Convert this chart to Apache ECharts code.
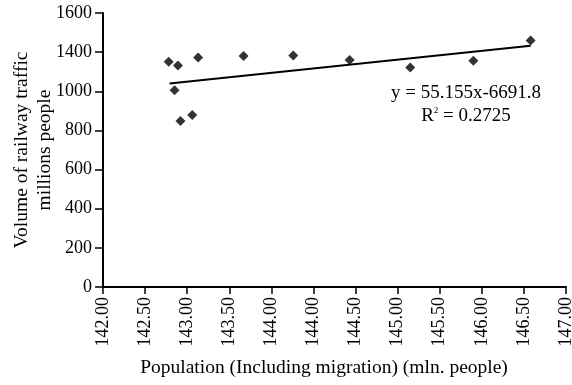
<!DOCTYPE html>
<html>
<head>
<meta charset="utf-8">
<script src="https://cdn.jsdelivr.net/npm/echarts@6/dist/echarts.min.js"></script>
<style>
  html, body { margin: 0; padding: 0; background: #fff; }
  #chart { width: 572px; height: 385px; }
</style>
</head>
<body>
<div id="chart"></div>
<script>
// Population (mln. people) and railway passenger volume, in axis units
const population = [142.78, 142.89, 142.85, 142.92, 143.06, 143.13, 143.67, 144.26, 144.93, 145.65, 146.40, 147.08];
const traffic    = [1151, 1132, 1005, 848, 879, 1172, 1180, 1183, 1160, 1122, 1156, 1260];

// Linear trend line end points
const trendX = [142.79, 147.08];
const trendY = [1040, 1233];

// Tick labels as printed on the axes
const xTickLabels = ['142.00', '142.50', '143.00', '143.50', '144.00', '144.00', '144.50', '145.00', '145.50', '146.00', '146.50', '147.00'];
const yTickLabels = ['0', '200', '400', '600', '800', '1000', '1400', '1600'];

const xMin = 142, xStep = 0.5, xMax = xMin + xStep * (xTickLabels.length - 1);
const yMin = 0, yStep = 200, yMax = yMin + yStep * (yTickLabels.length - 1);

const font = 'Liberation Serif';
const chart = echarts.init(document.getElementById('chart'), null, { renderer: 'canvas' });

chart.setOption({
  animation: false,
  backgroundColor: '#fff',
  textStyle: { fontFamily: font, color: '#000' },
  grid: { left: 103, right: 6, top: 13, bottom: 98, containLabel: false, outerBoundsMode: 'none' },
  xAxis: {
    type: 'value',
    min: xMin, max: xMax, interval: xStep,
    name: 'Population (Including migration) (mln. people)',
    nameLocation: 'middle',
    nameGap: 71,
    nameMoveOverlap: false,
    nameTextStyle: { fontFamily: font, fontSize: 19.5, color: '#000', padding: [0, 21, 0, 0] },
    axisLine: { lineStyle: { color: '#000', width: 2 } },
    axisTick: { length: 7, lineStyle: { color: '#000', width: 1.5 } },
    splitLine: { show: false },
    axisLabel: {
      rotate: 90, margin: 10, fontFamily: font, fontSize: 18, color: '#000',
      formatter: v => xTickLabels[Math.round((v - xMin) / xStep)] ?? ''
    }
  },
  yAxis: {
    type: 'value',
    min: yMin, max: yMax, interval: yStep,
    name: 'Volume of railway traffic\nmillions people',
    nameLocation: 'middle',
    nameGap: 47,
    nameMoveOverlap: false,
    nameTextStyle: { fontFamily: font, fontSize: 19.5, color: '#000', lineHeight: 23 },
    axisLine: { show: true, lineStyle: { color: '#000', width: 2 } },
    axisTick: { show: true, length: 8, lineStyle: { color: '#000', width: 1.5 } },
    splitLine: { show: false },
    axisLabel: {
      margin: 11, fontFamily: font, fontSize: 18, color: '#000',
      formatter: v => yTickLabels[Math.round((v - yMin) / yStep)] ?? ''
    }
  },
  series: [
    {
      type: 'scatter',
      symbol: 'diamond',
      symbolSize: 10,
      itemStyle: { color: '#000' },
      data: population.map((x, i) => [x, traffic[i]])
    },
    {
      type: 'line',
      symbol: 'none',
      lineStyle: { color: '#000', width: 2 },
      data: trendX.map((x, i) => [x, trendY[i]]),
      z: 1
    }
  ],
  graphic: [
    {
      type: 'text',
      x: 466, y: 93,
      style: {
        text: 'y = 55.155x-6691.8',
        font: '19px "Liberation Serif"',
        fill: '#000',
        align: 'center',
        verticalAlign: 'middle'
      }
    },
    {
      type: 'text',
      x: 466, y: 116,
      style: {
        text: '{b|R}{s|2}{b| = 0.2725}',
        fill: '#000',
        align: 'center',
        verticalAlign: 'middle',
        rich: {
          b: { fontFamily: font, fontSize: 19, fill: '#000', verticalAlign: 'bottom', lineHeight: 20 },
          s: { fontFamily: font, fontSize: 9, fill: '#000', verticalAlign: 'top', lineHeight: 20 }
        }
      }
    }
  ]
});
</script>
</body>
</html>
